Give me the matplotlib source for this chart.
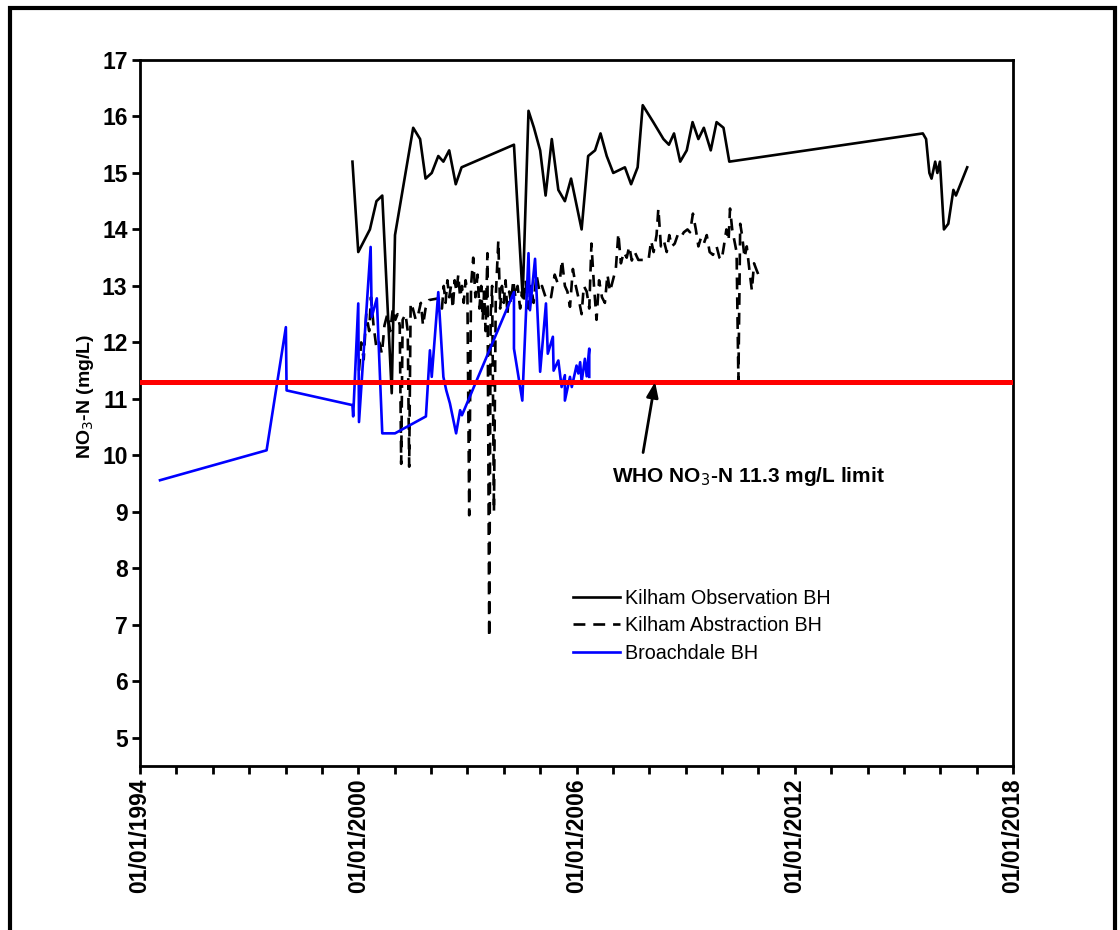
import matplotlib
matplotlib.use("Agg")
import matplotlib.pyplot as plt
from matplotlib.patches import Rectangle
from matplotlib.ticker import FixedLocator, MultipleLocator

plt.rcParams['font.family'] = ['Liberation Sans', 'DejaVu Sans']

# Sampling dates as decimal years, NO3-N in mg/L
obs_years = [1999.84, 2000.00, 2000.32, 2000.50, 2000.66, 2000.92, 2001.01, 2001.51,
             2001.70, 2001.85, 2002.02, 2002.20, 2002.34, 2002.50, 2002.68, 2002.84,
             2004.28, 2004.52, 2004.68, 2004.83, 2005.00, 2005.15, 2005.32, 2005.50,
             2005.68, 2005.85, 2006.14, 2006.32, 2006.51, 2006.66, 2006.83, 2007.01,
             2007.33, 2007.50, 2007.68, 2007.82, 2008.11, 2008.39, 2008.54, 2008.68,
             2008.85, 2009.03, 2009.19, 2009.35, 2009.50, 2009.69, 2009.85, 2010.04,
             2010.20, 2015.52, 2015.61, 2015.70, 2015.76, 2015.86, 2015.92, 2015.99,
             2016.10, 2016.22, 2016.36, 2016.43, 2016.74]
obs_values = [15.2, 13.6, 14.0, 14.5, 14.6, 11.1, 13.9, 15.8,
              15.6, 14.9, 15.0, 15.3, 15.2, 15.4, 14.8, 15.1,
              15.5, 12.8, 16.1, 15.8, 15.4, 14.6, 15.6, 14.7,
              14.5, 14.9, 14.0, 15.3, 15.4, 15.7, 15.3, 15.0,
              15.1, 14.8, 15.1, 16.2, 15.9, 15.6, 15.5, 15.7,
              15.2, 15.4, 15.9, 15.6, 15.8, 15.4, 15.9, 15.8,
              15.2, 15.7, 15.6, 15.0, 14.9, 15.2, 15.0, 15.2,
              14.0, 14.1, 14.7, 14.6, 15.1]

abs_years = [2000.02, 2000.08, 2000.15, 2000.22, 2000.30, 2000.35, 2000.42, 2000.50,
             2000.58, 2000.65, 2000.72, 2000.80, 2000.88, 2000.95, 2001.02, 2001.08,
             2001.14, 2001.18, 2001.22, 2001.30, 2001.36, 2001.40, 2001.44, 2001.50,
             2001.58, 2001.65, 2001.72, 2001.78, 2001.85, 2001.95, 2002.20, 2002.30,
             2002.35, 2002.40, 2002.45, 2002.50, 2002.55, 2002.60, 2002.65, 2002.70,
             2002.75, 2002.80, 2002.85, 2002.90, 2002.95, 2003.00, 2003.05, 2003.10,
             2003.16, 2003.22, 2003.28, 2003.33, 2003.38, 2003.42, 2003.46, 2003.50,
             2003.55, 2003.60, 2003.64, 2003.68, 2003.73, 2003.78, 2003.85, 2003.90,
             2003.95, 2004.00, 2004.05, 2004.10, 2004.15, 2004.20, 2004.26, 2004.32,
             2004.38, 2004.45, 2004.50, 2004.55, 2004.60, 2004.68, 2004.75, 2004.82,
             2004.90, 2004.98, 2005.05, 2005.15, 2005.22, 2005.30, 2005.40, 2005.48,
             2005.55, 2005.60, 2005.68, 2005.75, 2005.82, 2005.90, 2005.98, 2006.05,
             2006.14, 2006.20, 2006.28, 2006.35, 2006.41, 2006.48, 2006.55, 2006.62,
             2006.70, 2006.78, 2006.85, 2006.92, 2007.00, 2007.08, 2007.15, 2007.22,
             2007.30, 2007.38, 2007.45, 2007.52, 2007.60, 2007.70, 2007.98, 2008.05,
             2008.12, 2008.20, 2008.25, 2008.32, 2008.40, 2008.48, 2008.55, 2008.62,
             2008.70, 2008.78, 2008.86, 2008.95, 2009.05, 2009.12, 2009.20, 2009.28,
             2009.35, 2009.42, 2009.50, 2009.58, 2009.66, 2009.75, 2009.85, 2009.93,
             2009.99, 2010.05, 2010.12, 2010.18, 2010.22, 2010.28, 2010.34, 2010.40,
             2010.45, 2010.50, 2010.55, 2010.62, 2010.68, 2010.75, 2010.82, 2010.88,
             2010.95, 2011.00]
abs_values = [11.5, 12.0, 11.7, 12.5, 12.2, 12.8, 12.3, 11.9,
              12.0, 11.8, 12.3, 12.5, 12.2, 12.6, 12.4, 12.5,
              12.3, 9.85, 12.4, 12.5, 12.2, 9.8, 12.7, 12.6,
              12.4, 12.5, 12.7, 12.3, 12.6, 12.75, 12.78, 12.6,
              13.0, 12.7, 13.1, 12.8, 13.0, 12.6, 13.1, 12.9,
              13.2, 12.8, 13.0, 12.7, 13.1, 12.9, 8.94, 13.0,
              13.5, 12.8, 13.2, 12.6, 13.0, 12.4, 12.9, 12.2,
              13.58, 6.78, 12.5, 13.0, 9.0, 12.8, 13.8, 12.6,
              13.0, 12.7, 13.1, 12.5, 12.9, 12.7, 13.1, 12.8,
              13.0, 12.6, 12.9, 12.7, 13.1, 12.6, 13.0, 12.7,
              13.2, 12.9, 13.0, 12.8, 12.85, 12.8, 13.2, 13.05,
              13.15, 13.46, 13.0, 12.9, 12.63, 13.3, 13.0, 12.8,
              12.5, 13.0, 12.9, 12.6, 13.75, 13.0, 12.4, 13.1,
              12.8, 12.7, 13.2, 12.9, 13.1, 13.3, 13.93, 13.4,
              13.6, 13.5, 13.7, 13.45, 13.6, 13.46, 13.46, 13.8,
              13.6, 13.9, 14.37, 13.7, 13.8, 13.6, 13.9, 13.7,
              13.75, 13.9, 13.85, 13.95, 14.0, 13.95, 14.28, 14.0,
              13.7, 13.85, 13.75, 13.9, 13.6, 13.55, 13.7, 13.5,
              13.46, 13.7, 14.0, 13.8, 14.37, 14.0, 13.8, 13.6,
              11.33, 14.1, 13.9, 13.5, 13.7, 13.3, 12.92, 13.4,
              13.28, 13.2]

bro_years = [1994.55, 1997.48, 1998.01, 1998.03, 1999.84, 1999.86, 2000.00, 2000.02,
             2000.34, 2000.37, 2000.51, 2000.66, 2001.01, 2001.86, 2001.97, 2002.02,
             2002.20, 2002.34, 2002.42, 2002.52, 2002.69, 2002.80, 2002.85, 2004.28,
             2004.28, 2004.51, 2004.68, 2004.72, 2004.86, 2005.00, 2005.16, 2005.21,
             2005.35, 2005.37, 2005.50, 2005.59, 2005.68, 2005.68, 2005.82, 2005.87,
             2006.00, 2006.05, 2006.10, 2006.14, 2006.23, 2006.28, 2006.35, 2006.35]
bro_values = [9.56, 10.09, 12.27, 11.15, 10.89, 10.69, 12.69, 10.59,
              13.69, 12.45, 12.78, 10.39, 10.39, 10.69, 11.86, 11.39,
              12.89, 11.39, 11.15, 10.92, 10.39, 10.8, 10.71, 12.89,
              11.89, 10.97, 13.58, 12.57, 13.48, 11.48, 12.69, 11.8,
              12.1, 11.5, 11.68, 11.21, 11.42, 10.97, 11.39, 11.21,
              11.59, 11.45, 11.65, 11.3, 11.71, 11.4, 11.89, 11.39]

who_limit = 11.3
limit_label = 'WHO NO$_3$-N 11.3 mg/L limit'

year_ticks = [1994, 2000, 2006, 2012, 2018]
year_tick_labels = ['01/01/1994', '01/01/2000', '01/01/2006', '01/01/2012', '01/01/2018']
value_ticks = [5, 6, 7, 8, 9, 10, 11, 12, 13, 14, 15, 16, 17]

fig = plt.figure(figsize=(11.2, 9.3), dpi=100)
fig.patch.set_facecolor('white')

# Frame around the whole figure
fig.patches.append(Rectangle((10 / 1120, -0.05), 1105 / 1120, 1.05 - 8 / 930,
                             transform=fig.transFigure, fill=False,
                             edgecolor='black', linewidth=3, zorder=10))

ax = fig.add_axes([0.125, 0.1763, 0.7795, 0.7592])

ax.plot(obs_years, obs_values, color='black', linewidth=1.9,
        label='Kilham Observation BH', zorder=3)
ax.plot(abs_years, abs_values, color='black', linewidth=1.9,
        dashes=(4.5, 3.0), label='Kilham Abstraction BH', zorder=3)
ax.plot(bro_years, bro_values, color='#0000ff', linewidth=1.9,
        label='Broachdale BH', zorder=4)
ax.axhline(who_limit, color='#ff0000', linewidth=3.6, zorder=5)

# Arrow pointing at the limit line, and its caption
ax.annotate('', xy=(2008.16, who_limit), xytext=(2007.83, 10.05),
            arrowprops=dict(arrowstyle='-|>,head_length=0.9,head_width=0.35',
                            color='black', linewidth=2, shrinkA=0, shrinkB=0),
            zorder=6)
ax.text(2010.72, 9.63, limit_label, ha='center', va='center',
        fontsize=15, fontweight='bold', zorder=6)

ax.set_xlim(1994, 2018)
ax.set_ylim(4.5, 17)
ax.xaxis.set_major_locator(FixedLocator(year_ticks))
ax.xaxis.set_minor_locator(MultipleLocator(1))
ax.set_xticklabels(year_tick_labels, rotation=90, fontsize=16.5, fontweight='bold')
ax.set_yticks(value_ticks)
ax.set_yticklabels([str(v) for v in value_ticks], fontsize=16.5, fontweight='bold')

ax.tick_params(axis='both', which='both', direction='out', length=6, width=2,
               color='black', pad=3)
for side in ax.spines.values():
    side.set_linewidth(2)
    side.set_color('black')

ax.set_ylabel('NO$_3$-N (mg/L)', fontsize=14, fontweight='bold')
ax.yaxis.set_label_coords(-0.05, 0.523)

leg = ax.legend(loc='upper left', bbox_to_anchor=(0.487, 0.262), frameon=False,
                fontsize=14.2, handlelength=2.4, handletextpad=0.25,
                labelspacing=0.42, borderaxespad=0)

fig.savefig('out.png', dpi=100, facecolor='white')
